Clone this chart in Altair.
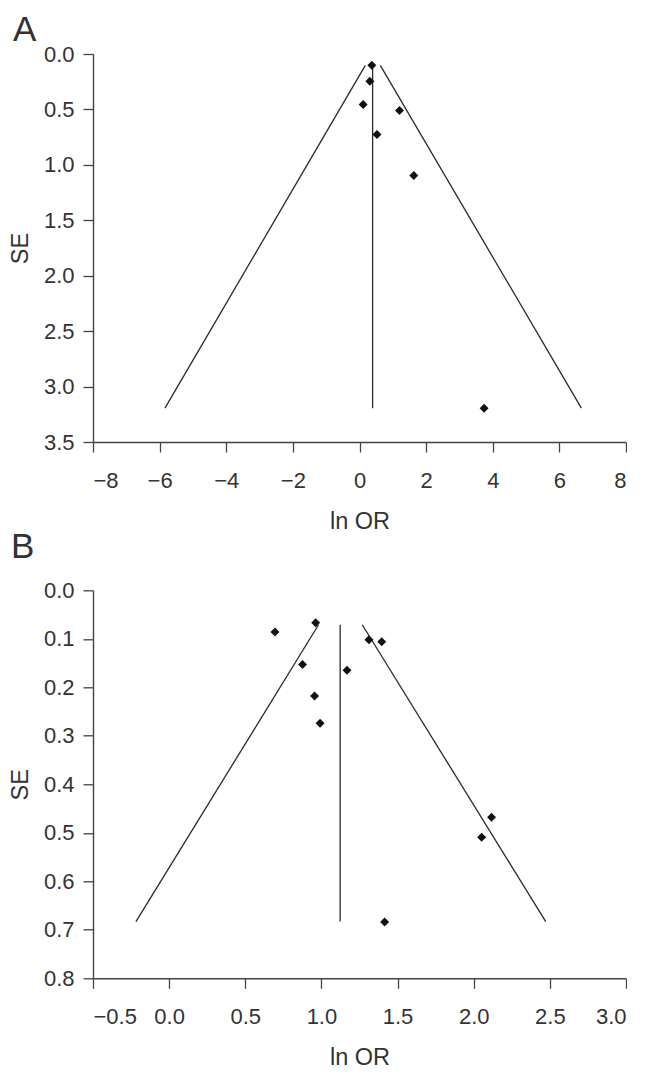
import altair as alt
import pandas as pd

# ---------------- Panel A data ----------------
a_lnor = [0.37, 0.31, 0.11, 1.20, 0.525, 1.63, 3.74]
a_se = [0.102, 0.246, 0.456, 0.51, 0.727, 1.096, 3.195]
# funnel / pooled-estimate segments (start -> end)
a_seg_x = [0.394, 0.175, 0.624]
a_seg_y = [0.102, 0.102, 0.102]
a_seg_x2 = [0.394, -5.84, 6.66]
a_seg_y2 = [3.195, 3.195, 3.195]
a_xticks = [-8, -6, -4, -2, 0, 2, 4, 6, 8]
a_yticks = [0.0, 0.5, 1.0, 1.5, 2.0, 2.5, 3.0, 3.5]

# ---------------- Panel B data ----------------
b_lnor = [0.695, 0.962, 0.876, 0.955, 0.991, 1.168, 1.312, 1.396, 2.117, 2.052, 1.415]
b_se = [0.086, 0.067, 0.153, 0.218, 0.274, 0.165, 0.102, 0.106, 0.468, 0.509, 0.684]
b_seg_x = [1.123, 0.981, 1.268]
b_seg_y = [0.071, 0.071, 0.071]
b_seg_x2 = [1.123, -0.218, 2.473]
b_seg_y2 = [0.683, 0.683, 0.683]
b_xticks = [-0.5, 0.0, 0.5, 1.0, 1.5, 2.0, 2.5, 3.0]
b_yticks = [0.0, 0.1, 0.2, 0.3, 0.4, 0.5, 0.6, 0.7, 0.8]

FONT = "Liberation Sans"
TXT = "#333333"
AX = "#444444"
W, H = 533, 388


def panel(letter, lx, ly, xs, ys, sx, sy, sx2, sy2, xdom, ydom, xticks, yticks, xfmt, yfmt):
    pts = pd.DataFrame({"x": xs, "y": ys})
    segs = pd.DataFrame({"x": sx, "y": sy, "x2": sx2, "y2": sy2})
    lab = pd.DataFrame({"t": [letter]})
    x_scale = alt.Scale(domain=xdom, nice=False, zero=False)
    y_scale = alt.Scale(domain=ydom, reverse=True, nice=False, zero=False)
    x_axis = alt.Axis(title="ln OR", values=xticks, format=xfmt, grid=False,
                      tickSize=10, labelPadding=18.5, titleY=86,
                      titleBaseline="alphabetic", titleAlign="center")
    y_axis = alt.Axis(title="SE", values=yticks, format=yfmt, grid=False,
                      tickSize=10, labelPadding=9, titleX=-65.5, titleY=H / 2,
                      titleAngle=270, titleBaseline="alphabetic", titleAlign="center")
    rules = alt.Chart(segs).mark_rule(color="#2a2a2a", strokeWidth=1.3).encode(
        x=alt.X("x:Q", scale=x_scale, axis=x_axis),
        y=alt.Y("y:Q", scale=y_scale, axis=y_axis),
        x2="x2:Q",
        y2="y2:Q",
    )
    points = alt.Chart(pts).mark_point(shape="diamond", filled=True, size=80,
                                       color="#111111", opacity=1).encode(
        x=alt.X("x:Q", scale=x_scale, axis=x_axis),
        y=alt.Y("y:Q", scale=y_scale, axis=y_axis),
    )
    text = alt.Chart(lab).mark_text(fontSize=35, font=FONT, align="left",
                                    baseline="alphabetic", color=TXT).encode(
        x=alt.value(lx), y=alt.value(ly), text="t:N"
    )
    return alt.layer(rules, points, text).properties(width=W, height=H)


pa = panel("A", -80, -13.5, a_lnor, a_se, a_seg_x, a_seg_y, a_seg_x2, a_seg_y2,
           [-8, 8], [0, 3.5], a_xticks, a_yticks, "d", ".1f")
pb = panel("B", -82, -32, b_lnor, b_se, b_seg_x, b_seg_y, b_seg_x2, b_seg_y2,
           [-0.5, 3.0], [0, 0.8], b_xticks, b_yticks, ".1f", ".1f")

chart = alt.vconcat(pa, pb, spacing=-2.7).properties(
    padding={"top": 4, "left": 0, "right": 0, "bottom": 0}
).configure_view(
    stroke=None
).configure_axis(
    labelFont=FONT, titleFont=FONT, labelFontSize=22, titleFontSize=23.5,
    titleFontWeight="normal", labelColor=TXT, titleColor=TXT,
    domainColor=AX, tickColor=AX, domainWidth=1.4, tickWidth=1.3,
)

chart.save("out.html", embed_options={"renderer": "svg", "actions": False})
